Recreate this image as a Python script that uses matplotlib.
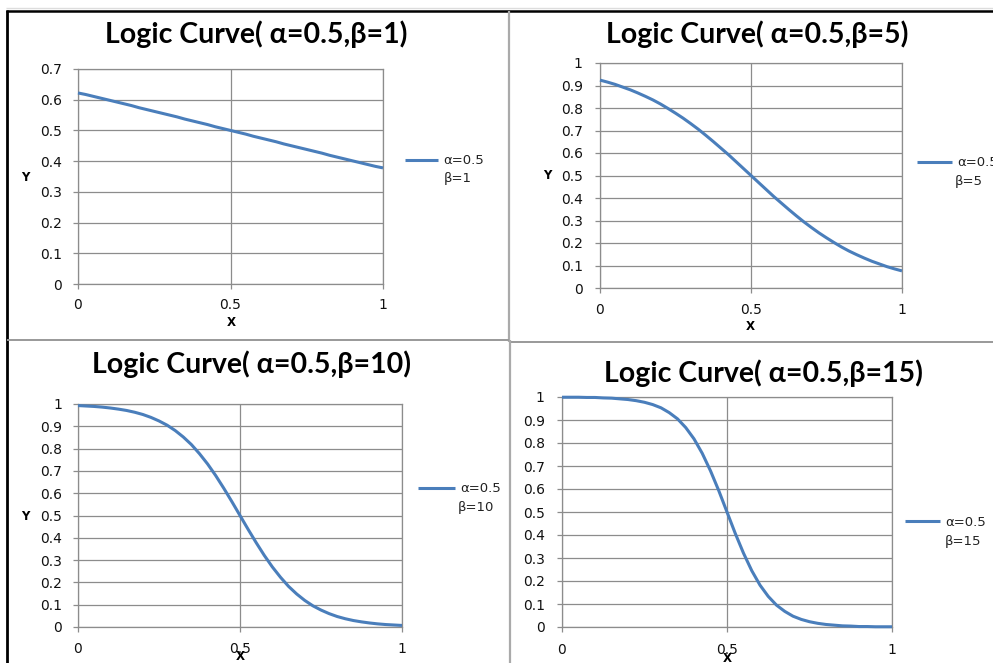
import matplotlib
matplotlib.use("Agg")
import matplotlib.pyplot as plt
from matplotlib.lines import Line2D

W, H = 993, 663

# ---- data ----
x_vals = [0.0, 0.025, 0.05, 0.075, 0.1, 0.125, 0.15, 0.175, 0.2, 0.225, 0.25,
          0.275, 0.3, 0.325, 0.35, 0.375, 0.4, 0.425, 0.45, 0.475, 0.5,
          0.525, 0.55, 0.575, 0.6, 0.625, 0.65, 0.675, 0.7, 0.725, 0.75,
          0.775, 0.8, 0.825, 0.85, 0.875, 0.9, 0.925, 0.95, 0.975, 1.0]
y_beta1 = [0.622, 0.617, 0.611, 0.605, 0.599, 0.593, 0.587, 0.581, 0.574, 0.568, 0.562,
           0.556, 0.550, 0.544, 0.537, 0.531, 0.525, 0.519, 0.512, 0.506, 0.500,
           0.494, 0.488, 0.481, 0.475, 0.469, 0.463, 0.456, 0.450, 0.444, 0.438,
           0.432, 0.426, 0.419, 0.413, 0.407, 0.401, 0.395, 0.389, 0.383, 0.378]
y_beta5 = [0.924, 0.915, 0.905, 0.893, 0.881, 0.867, 0.852, 0.836, 0.818, 0.798, 0.777,
           0.755, 0.731, 0.706, 0.679, 0.651, 0.622, 0.593, 0.562, 0.531, 0.500,
           0.469, 0.438, 0.407, 0.378, 0.349, 0.321, 0.294, 0.269, 0.245, 0.223,
           0.202, 0.182, 0.164, 0.148, 0.133, 0.119, 0.107, 0.095, 0.085, 0.076]
y_beta10 = [0.993, 0.991, 0.989, 0.986, 0.982, 0.977, 0.971, 0.963, 0.953, 0.940, 0.924,
            0.905, 0.881, 0.852, 0.818, 0.777, 0.731, 0.679, 0.622, 0.562, 0.500,
            0.438, 0.378, 0.321, 0.269, 0.223, 0.182, 0.148, 0.119, 0.095, 0.076,
            0.060, 0.047, 0.037, 0.029, 0.023, 0.018, 0.014, 0.011, 0.009, 0.007]
y_beta15 = [0.999, 0.999, 0.999, 0.998, 0.998, 0.996, 0.995, 0.992, 0.989, 0.984, 0.977,
            0.967, 0.953, 0.932, 0.905, 0.867, 0.818, 0.755, 0.679, 0.593, 0.500,
            0.407, 0.321, 0.245, 0.182, 0.133, 0.095, 0.068, 0.047, 0.033, 0.023,
            0.016, 0.011, 0.008, 0.005, 0.004, 0.002, 0.002, 0.001, 0.001, 0.001]

titles = ["Logic Curve( α=0.5,β=1)", "Logic Curve( α=0.5,β=5)",
          "Logic Curve( α=0.5,β=10)", "Logic Curve( α=0.5,β=15)"]
legend_line1 = ["α=0.5", "α=0.5", "α=0.5", "α=0.5"]
legend_line2 = ["β=1", "β=5", "β=10", "β=15"]
x_ticks = [0, 0.5, 1]
x_ticklabels = ["0", "0.5", "1"]
y_ticks_07 = [0, 0.1, 0.2, 0.3, 0.4, 0.5, 0.6, 0.7]
y_ticklabels_07 = ["0", "0.1", "0.2", "0.3", "0.4", "0.5", "0.6", "0.7"]
y_ticks_1 = [0, 0.1, 0.2, 0.3, 0.4, 0.5, 0.6, 0.7, 0.8, 0.9, 1.0]
y_ticklabels_1 = ["0", "0.1", "0.2", "0.3", "0.4", "0.5", "0.6", "0.7", "0.8", "0.9", "1"]

LINE_C = "#4A7EBB"
GRID_C = "#8C8C8C"

fig = plt.figure(figsize=(W / 100, H / 100), dpi=100)
fig.patch.set_facecolor("white")


def fx(px):
    return px / W


def fy(py):
    return 1 - py / H


def rect(x0, x1, yt, yb):
    return [x0 / W, 1 - yb / H, (x1 - x0) / W, (yb - yt) / H]


panels = [
    dict(r=(78, 383, 69, 284), ys=y_beta1, yt=y_ticks_07, ytl=y_ticklabels_07, ymax=0.7,
         title=(256, 34), leg=(405, 438, 161), leg2=(444, 179), ylab=(25, 178), xlab=(231, 322),
         xpad=6.5, ypad=8),
    dict(r=(600, 902, 63, 288), ys=y_beta5, yt=y_ticks_1, ytl=y_ticklabels_1, ymax=1.0,
         title=(757, 34), leg=(917, 952, 163), leg2=(955, 182), ylab=(547, 176), xlab=(750, 326),
         xpad=7, ypad=9),
    dict(r=(78, 402, 404, 627), ys=y_beta10, yt=y_ticks_1, ytl=y_ticklabels_1, ymax=1.0,
         title=(251, 364), leg=(418, 455, 489), leg2=(458, 507), ylab=(25, 516), xlab=(240, 657),
         xpad=7, ypad=8),
    dict(r=(562, 892, 397, 627), ys=y_beta15, yt=y_ticks_1, ytl=y_ticklabels_1, ymax=1.0,
         title=(763, 373), leg=(905, 940, 522), leg2=(945, 541), ylab=None, xlab=(727, 659),
         xpad=8, ypad=9),
]

for i, p in enumerate(panels):
    ax = fig.add_axes(rect(*p["r"]))
    ln, = ax.plot(x_vals, p["ys"], color=LINE_C, lw=2.2, solid_capstyle="butt",
                  solid_joinstyle="round", zorder=3, clip_on=False)
    ax.set_xlim(0, 1)
    ax.set_ylim(0, p["ymax"])
    ax.set_xticks(x_ticks)
    ax.set_xticklabels(x_ticklabels)
    ax.set_yticks(p["yt"])
    ax.set_yticklabels(p["ytl"])
    ax.grid(True, color=GRID_C, lw=0.9)
    ax.set_axisbelow(True)
    for s in ax.spines.values():
        s.set_color(GRID_C)
        s.set_linewidth(0.9)
    ax.tick_params(axis="x", direction="out", length=3.5, width=0.9, color=GRID_C,
                   labelsize=10, pad=p["xpad"], labelcolor="#111111")
    ax.tick_params(axis="y", direction="out", length=3.5, width=0.9, color=GRID_C,
                   labelsize=10, pad=p["ypad"], labelcolor="#111111")

    # title
    fig.text(fx(p["title"][0]), fy(p["title"][1]), titles[i], ha="center", va="center",
             fontsize=20.5, fontweight="bold", family="Lato", color="black")

    # legend
    lx0, lx1, ly = p["leg"]
    hl = (lx1 - lx0) / 13.2
    ax.legend([ln], [legend_line1[i]], loc="center left",
              bbox_to_anchor=(fx(lx0), fy(ly)), bbox_transform=fig.transFigure,
              frameon=False, borderpad=0, borderaxespad=0, handlelength=hl,
              handletextpad=0.4, fontsize=9.5, labelcolor="#222222")
    fig.text(fx(p["leg2"][0]), fy(p["leg2"][1]), legend_line2[i], ha="left", va="center",
             fontsize=9.5, color="#222222")

    # axis titles
    if p["ylab"] is not None:
        fig.text(fx(p["ylab"][0]), fy(p["ylab"][1]), "Y", ha="center", va="center",
                 fontsize=8.5, fontweight="bold")
    fig.text(fx(p["xlab"][0]), fy(p["xlab"][1]), "X", ha="center", va="center",
             fontsize=8.5, fontweight="bold")


# panel borders
def fline(x0, y0, x1, y1, color, lw):
    fig.add_artist(Line2D([fx(x0), fx(x1)], [fy(y0), fy(y1)], color=color, lw=lw,
                          transform=fig.transFigure, solid_capstyle="butt"))


fline(6, 8, 993, 8, "#dddddd", 1.0)
fline(6, 10.5, 993, 10.5, "black", 1.8)
fline(7, 10, 7, 663, "black", 2.0)
fline(509, 11, 509, 342, "#aaaaaa", 1.6)
fline(7, 340, 509, 340, "#999999", 1.4)
fline(509, 342, 993, 342, "#999999", 1.4)
fline(510.5, 340, 510.5, 663, "#aaaaaa", 1.6)

fig.savefig("out.png", dpi=100, facecolor="white")
